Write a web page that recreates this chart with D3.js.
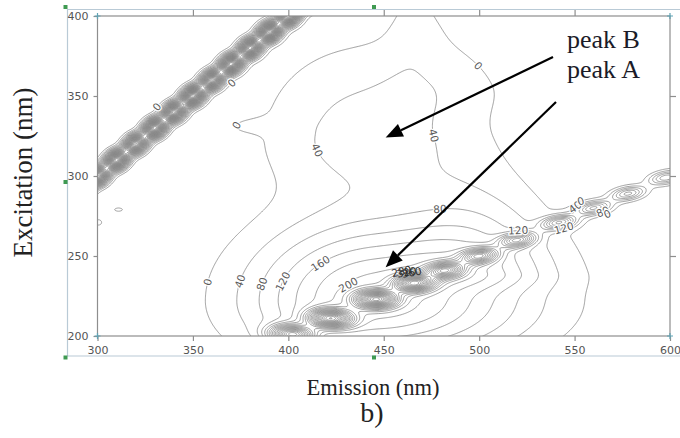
<!DOCTYPE html>
<html>
<head>
<meta charset="utf-8">
<script src="https://cdn.jsdelivr.net/npm/d3@7"></script>
<style>
  html, body { margin: 0; padding: 0; background: #ffffff; }
  svg { display: block; }
</style>
</head>
<body>
<svg id="chart" width="680" height="438"></svg>
<script>
// ---------------- data ----------------
const emissionTicks   = [300, 350, 400, 450, 500, 550, 600];
const excitationTicks = [200, 250, 300, 350, 400];

// fluorescence background level (intensity units)
const baseline = -40;

// fluorescence components: centre (nm), height and spread on each side (nm)
const componentName   = ["peak A", "peak B", "peak B upper", "shoulder", "peak B edge", "peak B neck"];
const componentHeight = [305, 97.5, 27.7, 94.3, 22, 30];
const componentEm     = [444, 440.5, 467.3, 497.6, 378, 466];
const componentEx     = [222, 324.6, 357, 239.4, 331, 395];
const widthEmLow      = [43.4, 38.8, 13.6, 25.7, 9, 8];
const widthEmHigh     = [55.1, 40.6, 45.9, 26.5, 14, 10];
const widthExLow      = [25.3, 25.7, 14.9, 7.0, 3.5, 15];
const widthExHigh     = [34.1, 41.4, 30, 42.0, 4, 40];

// small isolated features
const spotEm      = [311, 300.5];
const spotEx      = [279, 271];
const spotHeight  = [44, 46];
const spotWidthEm = [4.2, 3];
const spotWidthEx = [2.1, 3];

// first-order Rayleigh scatter (em = ex), intensity per excitation step
const rayleighEx     = [280, 290, 300, 310, 320, 330, 340, 350, 360, 370, 380, 390, 400, 410, 420];
const rayleighHeight = [1150, 1250, 1200, 1300, 1200, 1300, 1250, 1350, 1200, 1300, 1250, 1350, 1250, 1200, 1200];
// second-order scatter (em = 2 ex): intensity and spread per excitation step
const secondOrderEx     = [201, 211, 223, 233, 241, 250, 260, 271, 280, 289, 299, 309];
const secondOrderHeight = [650, 760, 760, 700, 540, 450, 380, 330, 280, 250, 230, 200];
const secondOrderWidth  = [5.6, 5.4, 5.0, 4.6, 4.2, 3.9, 3.7, 3.6, 3.5, 3.5, 3.5, 3.5];

// contour labels: level and approximate location (nm)
const labelLevel = [0, 0, 0, 40, 0, 40, 0, 40, 80, 120, 160, 200, 80, 120, 120, 40, 0, 80, 0];
const labelEm    = [332, 370.5, 372.6, 413, 500, 475.4, 360, 375.8, 385.2, 395.7, 420.3, 431.4, 479.6, 520.5, 545, 549.3, 553, 566, 569];
const labelEx    = [342.5, 358, 332, 315, 369.4, 325, 233, 233.8, 233, 235, 239.4, 231.9, 276.9, 267.5, 265, 283, 286, 274, 273];
// crowded labels in the dense region of the second-order band
const crowdLevel = [280, 320, 360];
const crowdEm    = [460, 462.5, 465];
const crowdEx    = [237.5, 237, 236.5];

const peakNames = ["peak B", "peak A"];
const peakEm = [451, 451];
const peakEx = [324, 243];

const contourStep = 40, contourMax = 1520;

// ---------------- surface ----------------
function lobe(h, ce, cx, el, eh, xl, xh, em, ex) {
  const de = (em - ce) / (em < ce ? el : eh);
  const dx = (ex - cx) / (ex < cx ? xl : xh);
  return h * Math.exp(-0.5 * (de * de + dx * dx));
}
// chain of scatter spots along em = order * ex
function scatterBand(em, ex, order, centres, heights, widths, sv) {
  const t = em / order, u = ex - t, v = (ex + t) / 2;
  let s = 0;
  for (let i = 0; i < centres.length; i++) {
    const d = (v - centres[i]) / sv;
    if (d < -7 || d > 7) continue;
    const w = typeof widths === "number" ? widths : widths[i];
    const q = u / w;
    if (q * q > 30) continue;
    s += heights[i] * Math.exp(-0.5 * (d * d + q * q));
  }
  return s;
}
function surface(em, ex) {
  let s = baseline;
  for (let c = 0; c < componentName.length; c++)
    s += lobe(componentHeight[c], componentEm[c], componentEx[c], widthEmLow[c], widthEmHigh[c], widthExLow[c], widthExHigh[c], em, ex);
  for (let k = 0; k < spotEm.length; k++)
    s += lobe(spotHeight[k], spotEm[k], spotEx[k], spotWidthEm[k], spotWidthEm[k], spotWidthEx[k], spotWidthEx[k], em, ex);
  s += scatterBand(em, ex, 1, rayleighEx, rayleighHeight, 4.8, 3.05);
  s += scatterBand(em, ex, 2, secondOrderEx, secondOrderHeight, secondOrderWidth, 2.5);
  return s;
}

// ---------------- chart ----------------
const svg = d3.select("#chart");
const x = d3.scaleLinear().domain([300, 600]).range([97.5, 670]);
const y = d3.scaleLinear().domain([200, 400]).range([336, 16]);
const pxPerEm = (x(600) - x(300)) / 300, pxPerEx = (y(200) - y(400)) / 200;

// selection frame around the figure
const frameColor = "#b9cad6";
svg.append("path").attr("d", "M680,9.5H67.5V356H680").attr("fill", "none").attr("stroke", frameColor).attr("stroke-width", 1.2);
[[65.5, 7], [374, 7], [65.5, 182], [65.5, 357.5], [374, 357.5]].forEach(([hx, hy]) =>
  svg.append("rect").attr("x", hx - 2).attr("y", hy - 2).attr("width", 4).attr("height", 4).attr("fill", "#3f9a52"));

// sample the surface on a fine grid, padded so every contour closes outside the plot
const gridStep = 0.5, em0 = 299, ex0 = 199;
const nx = Math.round((601 - em0) / gridStep) + 1, ny = Math.round((401 - ex0) / gridStep) + 1;
const values = new Float64Array(nx * ny);
for (let j = 0; j < ny; j++) for (let i = 0; i < nx; i++) {
  values[j * nx + i] = (i === 0 || j === 0 || i === nx - 1 || j === ny - 1)
    ? -1000 : surface(em0 + i * gridStep, ex0 + j * gridStep);
}
const thresholds = d3.range(0, contourMax + 1, contourStep);
const contours = d3.contours().size([nx, ny]).thresholds(thresholds)(values);
const proj = d3.geoTransform({ point(px, py) {
  this.stream.point(x(em0 + (px - 0.5) * gridStep), y(ex0 + (py - 0.5) * gridStep));
}});
const path = d3.geoPath(proj);

svg.append("clipPath").attr("id", "plotClip").append("rect")
  .attr("x", x(300)).attr("y", y(400)).attr("width", x(600) - x(300)).attr("height", y(200) - y(400));
svg.append("g").attr("clip-path", "url(#plotClip)")
  .selectAll("path").data(contours).join("path")
  .attr("d", path).attr("fill", "none").attr("stroke", "#868686").attr("stroke-width", 0.8);

// contour labels, moved onto their level line and turned along it
function grad(em, ex) {
  return [(surface(em + 0.25, ex) - surface(em - 0.25, ex)) / 0.5 / pxPerEm,
          (surface(em, ex + 0.25) - surface(em, ex - 0.25)) / 0.5 / pxPerEx];
}
function snap(level, em, ex) {
  let e = em, xx = ex;
  for (let k = 0; k < 10; k++) {
    const f = surface(e, xx) - level;
    const [ge, gx] = grad(e, xx);
    const g2 = ge * ge + gx * gx;
    if (g2 < 1e-9) break;
    let sx = -f * ge / g2, sy = -f * gx / g2;
    const len = Math.hypot(sx, sy);
    if (len > 3) { sx *= 3 / len; sy *= 3 / len; }
    e += sx / pxPerEm; xx += sy / pxPerEx;
  }
  if (Math.abs(surface(e, xx) - level) > 6 || Math.hypot((e - em) * pxPerEm, (xx - ex) * pxPerEx) > 14) return [em, ex];
  return [e, xx];
}
const labelG = svg.append("g").attr("clip-path", "url(#plotClip)")
  .attr("font-family", "DejaVu Sans, sans-serif").attr("font-size", 10.5).attr("text-anchor", "middle");
function placeLabel(lv, em, ex, fill, halo) {
  const [e, xx] = snap(lv, em, ex);
  const [ge, gx] = grad(e, xx);
  let ang = Math.atan2(ge, gx) * 180 / Math.PI;
  if (ang > 90) ang -= 180;
  if (ang < -90) ang += 180;
  const t = labelG.append("text")
    .attr("transform", `translate(${x(e)},${y(xx)}) rotate(${ang})`)
    .attr("dy", "0.35em").attr("fill", fill).text(String(lv));
  if (halo) t.attr("stroke", "#ffffff").attr("stroke-width", 2.5).attr("paint-order", "stroke");
}
labelLevel.forEach((lv, i) => placeLabel(lv, labelEm[i], labelEx[i], "#5a5a5a", true));
crowdLevel.forEach((lv, i) => placeLabel(lv, crowdEm[i], crowdEx[i], "#2e2e2e", false));

// plot frame and ticks
const axisColor = "#8e8e8e";
svg.append("rect").attr("x", x(300)).attr("y", y(400)).attr("width", x(600) - x(300)).attr("height", y(200) - y(400))
  .attr("fill", "none").attr("stroke", axisColor).attr("stroke-width", 1.2);
function styleAxis(g) {
  g.select(".domain").remove();
  g.selectAll(".tick line").attr("stroke", axisColor).attr("stroke-width", 1.2);
  g.selectAll(".tick text").attr("fill", "#555").attr("font-family", "DejaVu Sans, sans-serif").attr("font-size", 11);
}
svg.append("g").attr("transform", `translate(0,${y(200)})`)
  .call(d3.axisBottom(x).tickValues(emissionTicks).tickSize(5).tickPadding(5).tickFormat(d3.format("d"))).call(styleAxis);
svg.append("g").attr("transform", `translate(${x(300)},0)`)
  .call(d3.axisLeft(y).tickValues(excitationTicks).tickSize(4).tickPadding(5).tickFormat(d3.format("d"))).call(styleAxis);
svg.append("g").attr("transform", `translate(0,${y(400)})`)
  .call(d3.axisTop(x).tickValues(emissionTicks.slice(1, -1)).tickSize(6).tickFormat("")).call(styleAxis);
svg.append("g").attr("transform", `translate(${x(600)},0)`)
  .call(d3.axisRight(y).tickValues(excitationTicks.slice(1, -1)).tickSize(6).tickFormat("")).call(styleAxis);
[[300, 400], [300, 200], [600, 400], [600, 200]].forEach(([e, xx]) => {
  svg.append("path").attr("d", `M${x(e) - 3},${y(xx)}h6M${x(e)},${y(xx) - 3}v6`)
    .attr("stroke", "#5fa3b5").attr("stroke-width", 1.2);
});

// axis titles and panel letter
const serif = "Liberation Serif, Times New Roman, serif";
svg.append("text").attr("x", 373).attr("y", 395).attr("text-anchor", "middle").attr("font-family", serif)
  .attr("font-size", 22.5).attr("fill", "#222").text("Emission (nm)");
svg.append("text").attr("x", 372).attr("y", 422).attr("text-anchor", "middle").attr("font-family", serif)
  .attr("font-size", 28).attr("fill", "#222").text("b)");
svg.append("text").attr("transform", "translate(32,172.5) rotate(-90)").attr("text-anchor", "middle")
  .attr("font-family", serif).attr("font-size", 27).attr("fill", "#222").text("Excitation (nm)");

// peak annotations with arrows
const noteX = 567, noteY = [48, 78], tailPx = [[553, 57], [556, 102]];
peakNames.forEach((name, i) => {
  svg.append("text").attr("x", noteX).attr("y", noteY[i]).attr("font-family", serif).attr("font-size", 26)
    .attr("fill", "#1b1b28").text(name);
  const tx = x(peakEm[i]), ty = y(peakEx[i]);
  const [sx, sy] = tailPx[i];
  const a = Math.atan2(ty - sy, tx - sx), len = 17, hw = 7;
  const bx = tx - len * Math.cos(a), by = ty - len * Math.sin(a);
  svg.append("line").attr("x1", sx).attr("y1", sy).attr("x2", bx).attr("y2", by)
    .attr("stroke", "#000").attr("stroke-width", 2.2);
  svg.append("path")
    .attr("d", `M${tx},${ty}L${bx + hw * Math.sin(a)},${by - hw * Math.cos(a)}L${bx - hw * Math.sin(a)},${by + hw * Math.cos(a)}Z`)
    .attr("fill", "#000");
});
</script>
</body>
</html>
